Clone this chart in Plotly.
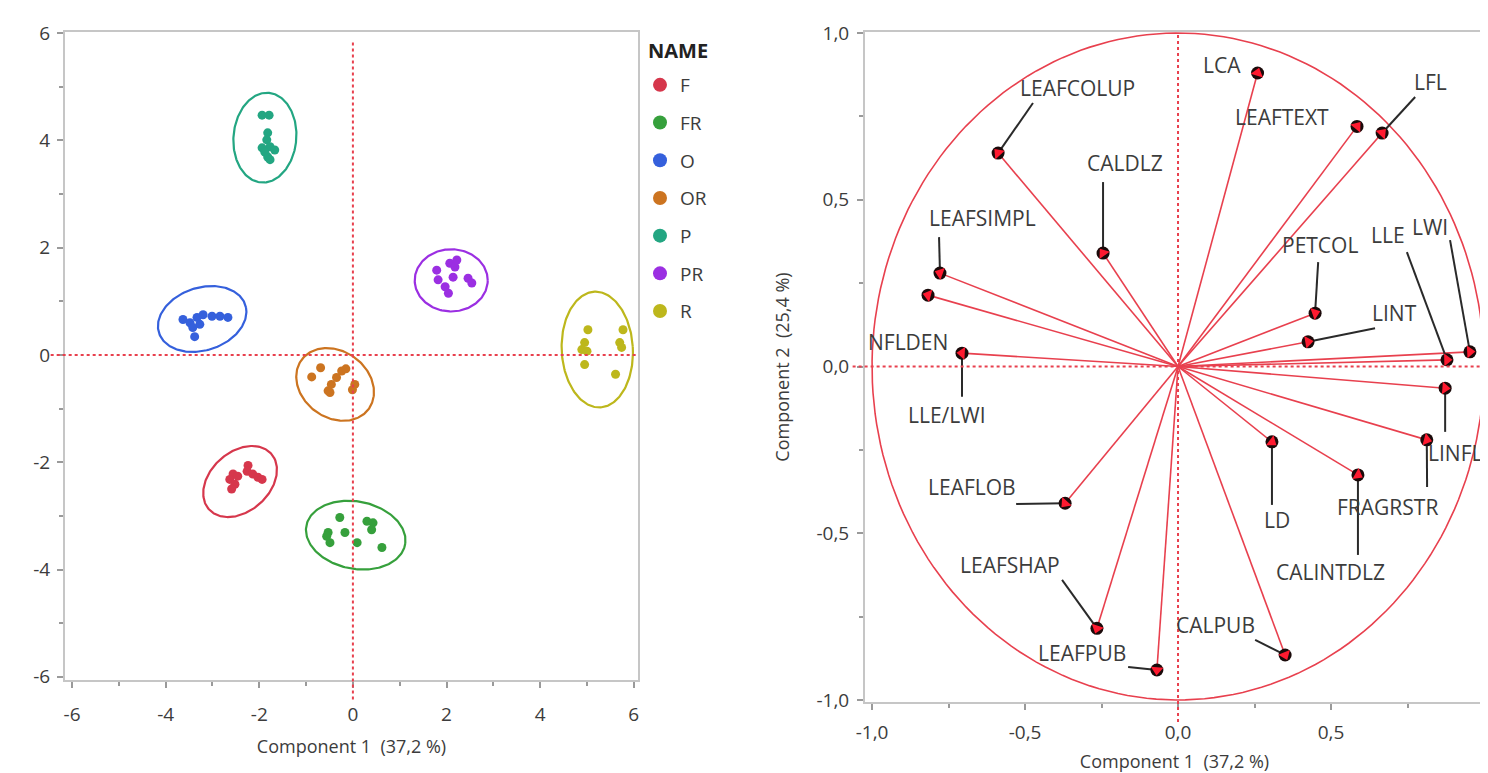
import numpy as np
import plotly.graph_objects as go

# ---------------- Score plot data (Component 1 vs Component 2) ----------------
groups = ["F", "FR", "O", "OR", "P", "PR", "R"]

F_x = [-2.56, -2.63, -2.52, -2.59, -2.46, -2.24, -2.26, -2.14, -2.03, -1.94]
F_y = [-2.22, -2.32, -2.41, -2.50, -2.26, -2.06, -2.17, -2.22, -2.28, -2.32]
FR_x = [-0.28, -0.53, -0.49, -0.17, 0.09, 0.30, 0.43, 0.40, 0.62, -0.56]
FR_y = [-3.03, -3.31, -3.50, -3.31, -3.50, -3.10, -3.13, -3.26, -3.59, -3.38]
O_x = [-3.63, -3.48, -3.33, -3.20, -3.42, -3.38, -3.01, -2.84, -2.67, -3.27]
O_y = [0.66, 0.60, 0.70, 0.75, 0.51, 0.34, 0.72, 0.72, 0.70, 0.57]
OR_x = [-0.69, -0.88, -0.53, -0.46, -0.35, -0.24, -0.15, 0.04, -0.01, -0.49]
OR_y = [-0.24, -0.41, -0.67, -0.55, -0.42, -0.30, -0.26, -0.55, -0.65, -0.70]
P_x = [-1.94, -1.79, -1.82, -1.84, -1.94, -1.77, -1.67, -1.82, -1.77, -1.88]
P_y = [4.47, 4.47, 4.14, 4.01, 3.86, 3.88, 3.82, 3.69, 3.64, 3.78]
PR_x = [1.79, 1.82, 2.07, 2.18, 2.14, 1.97, 2.04, 2.46, 2.54, 2.22]
PR_y = [1.58, 1.40, 1.71, 1.64, 1.45, 1.27, 1.15, 1.43, 1.34, 1.77]
R_x = [5.02, 4.95, 4.89, 5.00, 4.95, 5.77, 5.70, 5.74, 5.61]
R_y = [0.47, 0.23, 0.10, 0.07, -0.18, 0.47, 0.23, 0.14, -0.36]

score_x = [F_x, FR_x, O_x, OR_x, P_x, PR_x, R_x]
score_y = [F_y, FR_y, O_y, OR_y, P_y, PR_y, R_y]

# ellipse per group: centre x, centre y, semi-axis a, semi-axis b, rotation (deg)
ell_cx = [-2.41, 0.06, -3.22, -0.38, -1.88, 2.10, 5.22]
ell_cy = [-2.36, -3.36, 0.67, -0.55, 4.05, 1.39, 0.10]
ell_a = [0.85, 1.07, 0.96, 0.86, 0.67, 0.78, 0.76]
ell_b = [0.58, 0.63, 0.59, 0.64, 0.84, 0.58, 1.08]
ell_rot = [31, -8, 13, -23, -8, 0, 4]

group_colors = ["#d6374c", "#36a03c", "#3560dc", "#cc7420", "#23a682", "#9b2fe2", "#bdb71c"]

# tick labels
left_ticks = [-6, -4, -2, 0, 2, 4, 6]
left_ticktext = ["-6", "-4", "-2", "0", "2", "4", "6"]
right_ticks = [-1.0, -0.5, 0.0, 0.5, 1.0]
right_ticktext = ["-1,0", "-0,5", "0,0", "0,5", "1,0"]

# ---------------- Loading plot data ----------------
load_names = ["LCA", "LEAFTEXT", "LFL", "LEAFCOLUP", "CALDLZ", "LEAFSIMPL", "NFLDEN",
              "LLE/LWI", "PETCOL", "LINT", "LLE", "LWI", "LINFL", "FRAGRSTR", "LD",
              "CALINTDLZ", "CALPUB", "LEAFPUB", "LEAFSHAP", "LEAFLOB"]
load_x = [0.26, 0.585, 0.667, -0.588, -0.245, -0.778, -0.817, -0.706, 0.448, 0.425,
          0.879, 0.954, 0.873, 0.813, 0.307, 0.588, 0.35, -0.069, -0.265, -0.369]
load_y = [0.88, 0.72, 0.70, 0.64, 0.34, 0.28, 0.214, 0.04, 0.16, 0.074,
          0.02, 0.044, -0.065, -0.22, -0.226, -0.325, -0.865, -0.91, -0.785, -0.41]

# label placement (layout): text centre and leader tail (None = no leader)
lab_x = [0.144, 0.34, 0.824, -0.327, -0.173, -0.64, -0.882, -0.755, 0.464, 0.709,
         0.686, 0.824, 0.905, 0.686, 0.324, 0.497, 0.121, -0.314, -0.549, -0.673]
lab_y = [0.904, 0.748, 0.853, 0.835, 0.61, 0.445, 0.073, -0.145, 0.364, 0.16,
         0.394, 0.418, -0.259, -0.421, -0.46, -0.616, -0.775, -0.859, -0.595, -0.361]
tail_x = [None, None, 0.775, -0.474, -0.245, -0.781, None, -0.706, 0.458, 0.644,
          0.748, 0.889, 0.873, 0.814, 0.307, 0.588, 0.252, -0.163, -0.379, -0.529]
tail_y = [None, None, 0.808, 0.79, 0.553, 0.388, None, -0.091, 0.313, 0.115,
          0.343, 0.379, -0.196, -0.361, -0.415, -0.565, -0.82, -0.901, -0.64, -0.412]

FONT = "Open Sans"
TXT = "#3c3c3c"
RED = "#e8404e"

fig = go.Figure()

# ---- left: ellipses and points
t = np.linspace(0, 2 * np.pi, 200)
for i, g in enumerate(groups):
    th = np.radians(ell_rot[i])
    ex = ell_cx[i] + ell_a[i] * np.cos(th) * np.cos(t) - ell_b[i] * np.sin(th) * np.sin(t)
    ey = ell_cy[i] + ell_a[i] * np.sin(th) * np.cos(t) + ell_b[i] * np.cos(th) * np.sin(t)
    fig.add_trace(go.Scatter(x=ex, y=ey, mode="lines", line=dict(color=group_colors[i], width=2.2),
                             showlegend=False, hoverinfo="skip", xaxis="x", yaxis="y"))
    fig.add_trace(go.Scatter(x=score_x[i], y=score_y[i], mode="markers", name=g,
                             marker=dict(color=group_colors[i], size=9),
                             showlegend=False, legendgroup=g, xaxis="x", yaxis="y"))
    # legend entry
    fig.add_trace(go.Scatter(x=[None], y=[None], mode="markers", name=g, legendgroup=g,
                             marker=dict(color=group_colors[i], size=14),
                             showlegend=True, xaxis="x", yaxis="y"))

# ---- right: correlation circle
fig.add_trace(go.Scatter(x=np.cos(t), y=np.sin(t), mode="lines", line=dict(color=RED, width=1.6),
                         showlegend=False, hoverinfo="skip", xaxis="x2", yaxis="y2"))
# rays from origin
rx, ry = [], []
for x, y in zip(load_x, load_y):
    rx += [0, x, None]
    ry += [0, y, None]
fig.add_trace(go.Scatter(x=rx, y=ry, mode="lines", line=dict(color=RED, width=1.6),
                         showlegend=False, hoverinfo="skip", xaxis="x2", yaxis="y2"))
# leader lines
lx, ly = [], []
for x, y, tx, ty in zip(load_x, load_y, tail_x, tail_y):
    if tx is None:
        continue
    lx += [x, tx, None]
    ly += [y, ty, None]
fig.add_trace(go.Scatter(x=lx, y=ly, mode="lines", line=dict(color="#2a2a2a", width=2),
                         showlegend=False, hoverinfo="skip", xaxis="x2", yaxis="y2"))
# markers
angles = [90 - np.degrees(np.arctan2(y, x)) for x, y in zip(load_x, load_y)]
fig.add_trace(go.Scatter(x=load_x, y=load_y, mode="markers", text=load_names,
                         marker=dict(color="#1a0a0a", size=13),
                         showlegend=False, xaxis="x2", yaxis="y2"))
fig.add_trace(go.Scatter(x=load_x, y=load_y, mode="markers", hoverinfo="skip",
                         marker=dict(color="#ff1a30", size=11, symbol="triangle-up", angle=angles),
                         showlegend=False, xaxis="x2", yaxis="y2"))

# page has an 8px body margin: figure placed at (8,8) in the window
OFF = 8
W, H = 1480, 765


def px_x(p):
    return (p - OFF) / W


def px_y(p):
    return 1 - (p - OFF) / H


annotations = []
for name, x, y in zip(load_names, lab_x, lab_y):
    annotations.append(dict(x=x, y=y, xref="x2", yref="y2", text=name, showarrow=False,
                            font=dict(family=FONT, size=21, color=TXT)))
# legend heading
annotations.append(dict(x=px_x(646), y=px_y(50), xref="paper", yref="paper", text="<b>NAME</b>",
                        showarrow=False, xanchor="left", yanchor="middle",
                        font=dict(family=FONT, size=20, color="#222")))

shapes = [
    # left reference lines
    dict(type="line", xref="x", yref="y domain", x0=0, x1=0, y0=-0.03, y1=0.985,
         line=dict(color=RED, width=2, dash="dot")),
    dict(type="line", xref="x domain", yref="y", x0=-0.025, x1=1, y0=0, y1=0,
         line=dict(color=RED, width=2, dash="dot")),
    # right reference lines
    dict(type="line", xref="x2", yref="y2 domain", x0=0, x1=0, y0=-0.03, y1=1,
         line=dict(color=RED, width=2, dash="dot")),
    dict(type="line", xref="x2 domain", yref="y2", x0=-0.02, x1=1, y0=0, y1=0,
         line=dict(color=RED, width=2, dash="dot")),
]

axis_common = dict(showgrid=False, zeroline=False, showline=True, mirror=True,
                   linecolor="#c6c6c6", linewidth=2, ticks="outside", ticklen=6,
                   tickcolor="#9a9a9a", tickwidth=1.5, automargin=False,
                   tickfont=dict(family=FONT, size=19, color=TXT))

fig.update_layout(
    width=W, height=H,
    margin=dict(l=0, r=0, t=0, b=0, autoexpand=False),
    paper_bgcolor="white", plot_bgcolor="white",
    separators=",.",
    font=dict(family=FONT, color=TXT),
    xaxis=dict(domain=[px_x(65), px_x(638)], range=[-6.15, 6.09],
               tickmode="array", tickvals=left_ticks, ticktext=left_ticktext,
               minor=dict(dtick=1, tick0=0, ticklen=4, ticks="outside", tickcolor="#9a9a9a"),
               title=dict(text="Component 1  (37,2 %)", font=dict(family=FONT, size=18, color=TXT), standoff=15),
               ticklabelstandoff=10, anchor="y", **axis_common),
    yaxis=dict(domain=[px_y(680), px_y(32)], range=[-6.06, 6.02],
               tickmode="array", tickvals=left_ticks, ticktext=left_ticktext,
               minor=dict(dtick=1, tick0=0, ticklen=4, ticks="outside", tickcolor="#9a9a9a"),
               ticklabelstandoff=3, anchor="x", **axis_common),
    xaxis2=dict(domain=[px_x(865), px_x(1484)], range=[-1.023, 1.0],
                tickmode="array", tickvals=right_ticks, ticktext=right_ticktext,
                minor=dict(dtick=0.25, tick0=0, ticklen=4, ticks="outside", tickcolor="#9a9a9a"),
                title=dict(text="Component 1  (37,2 %)", font=dict(family=FONT, size=18, color=TXT), standoff=25),
                ticklabelstandoff=6, anchor="y2", **axis_common),
    yaxis2=dict(domain=[px_y(702), px_y(32)], range=[-1.006, 1.003],
                tickmode="array", tickvals=right_ticks, ticktext=right_ticktext,
                minor=dict(dtick=0.25, tick0=0, ticklen=4, ticks="outside", tickcolor="#9a9a9a"),
                title=dict(text="Component 2  (25,4 %)", font=dict(family=FONT, size=18, color=TXT), standoff=22),
                ticklabelstandoff=4, anchor="x2", **axis_common),
    legend=dict(x=px_x(640), y=px_y(66), xanchor="left", yanchor="top",
                font=dict(family=FONT, size=19, color=TXT),
                tracegroupgap=10, itemwidth=30, bgcolor="rgba(0,0,0,0)"),
    annotations=annotations,
    shapes=shapes,
    showlegend=True,
)

fig.write_html("out.html")
